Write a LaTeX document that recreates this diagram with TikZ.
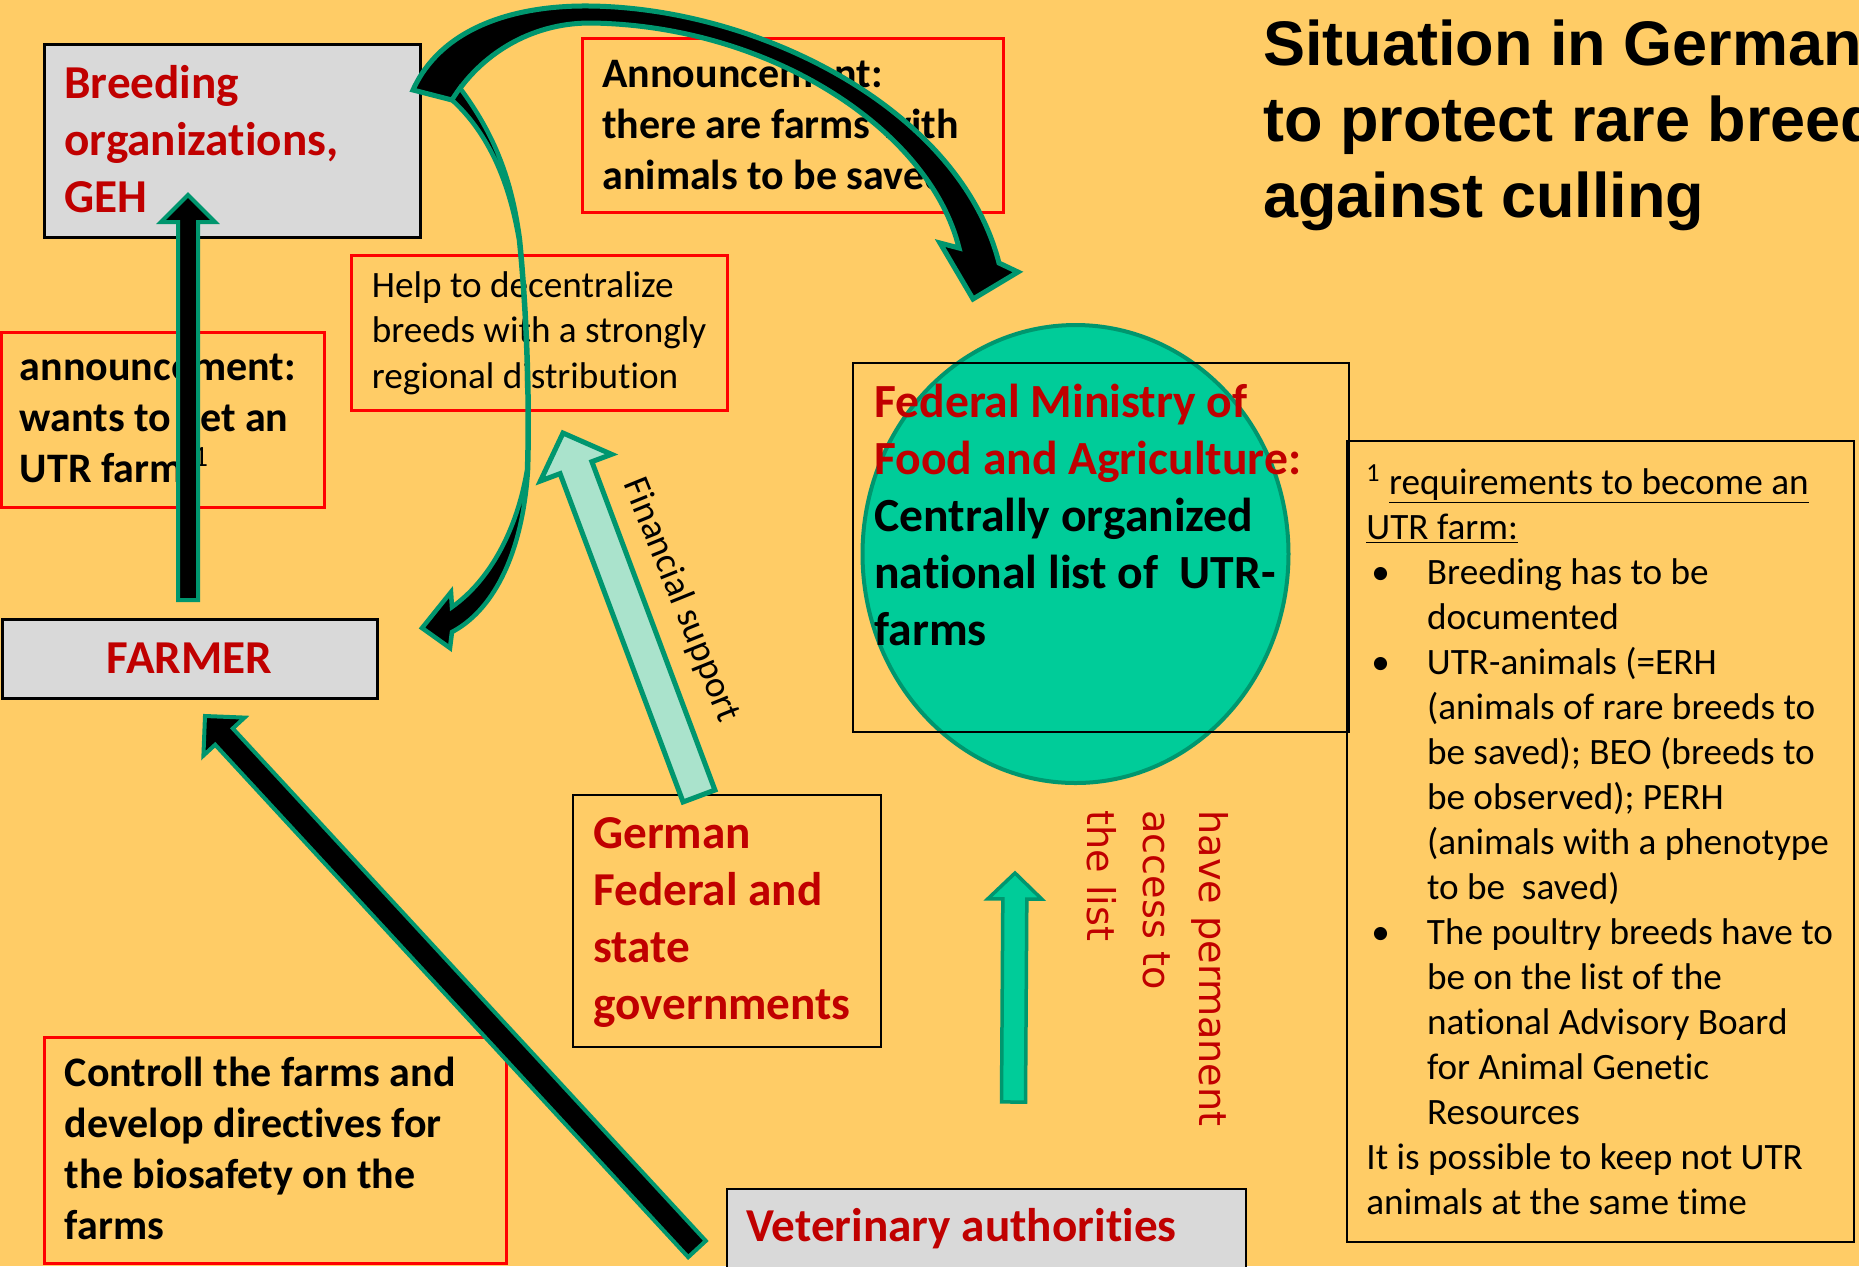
\documentclass[tikz,border=0pt]{standalone}
\usepackage{fontspec}
\setmainfont{Carlito}[Ligatures=NoCommon]
\newfontfamily\titleFont{Liberation Sans}
\newfontfamily\listFont{DejaVu Sans}
\usetikzlibrary{calc,fit,shapes.geometric}

\definecolor{slideBg}{HTML}{FFCC66}
\definecolor{boxGray}{HTML}{D9D9D9}
\definecolor{darkRed}{HTML}{C00000}
\definecolor{frameRed}{HTML}{FF0000}
\definecolor{arrowTeal}{HTML}{00966E}
\definecolor{listGreen}{HTML}{00CC99}
\definecolor{mint}{HTML}{AAE3CC}

% bullet and indent of the footnote list
\newcommand\noteBullet{\hspace*{2.5pt}\makebox[27.8pt][l]{\textbullet}}
\newcommand\noteIndent{\hspace*{30.3pt}}

% block arrow: tail, tip, half shaft, half head, head length, style
\newcommand\blockArrow[6]{%
  \coordinate (ba-h) at ($(#2)!#5!(#1)$);
  \filldraw[#6] ($(#1)!#3!90:(#2)$) -- ($(ba-h)!#3!90:(#2)$) -- ($(ba-h)!#4!90:(#2)$) -- (#2)
    -- ($(ba-h)!#4!-90:(#2)$) -- ($(ba-h)!#3!-90:(#2)$) -- ($(#1)!#3!-90:(#2)$) -- cycle;
}

\tikzset{
  graybox/.style={draw=black, fill=boxGray, line width=1.5pt, inner sep=0pt},
  redbox/.style={draw=frameRed, line width=1.5pt, inner sep=0pt},
  thinbox/.style={draw=black, line width=1pt, inner sep=0pt},
  txt/.style={inner sep=0pt, anchor=base west, text width=#1, align=flush left},
  txt/.default=300pt,
  redfont/.style={text=darkRed, font=\fontsize{23.6pt}{28.6pt}\selectfont\bfseries},
  boldfont/.style={font=\fontsize{21pt}{25.5pt}\selectfont\bfseries},
  plainfont/.style={font=\fontsize{18.6pt}{22.5pt}\selectfont},
  blackarrow/.style={fill=black, draw=arrowTeal, line width=2pt},
  arcarrow/.style={fill=black, draw=arrowTeal, line width=2.5pt},
  mintarrow/.style={fill=mint, draw=arrowTeal, line width=2.5pt},
  greenarrow/.style={fill=listGreen, draw=arrowTeal, line width=1.75pt},
}

\begin{document}
\begin{tikzpicture}[x=0.5pt, y=-0.5pt, line join=miter]
    % slide
    \useasboundingbox (0,0) rectangle (1859,1266);
    \clip (0,0) rectangle (1859,1266);
    \fill[slideBg] (0,0) rectangle (1859,1266);

    % title
    \node[txt=400pt, font=\titleFont\bfseries\fontsize{31.5pt}{38pt}\selectfont] (title) at (1263,65)
      {Situation in Germany\\ to protect rare breeds\\ against culling};

    % national list
    \node[ellipse, draw=arrowTeal, fill=listGreen, line width=2pt, minimum width=213pt, minimum height=229pt] (list) at (1075.5,554) {};
    \node[thinbox, fit={(853,363) (1349,732)}] (ministry) {};
    \node[txt=260pt, redfont, font=\fontsize{23.8pt}{28.6pt}\selectfont\bfseries] (ministryText) at (874,417)
      {Federal Ministry of\\ Food and Agriculture:\\ \color{black}Centrally organized\\ national list of\ \ UTR-\\ farms};

    % gray boxes
    \node[graybox, fit={(44,44) (420,237)}] (breed) {};
    \node[graybox, fit={(2,619) (377,698)}] (farmer) {};
    \node[graybox, line width=1pt, fit={(727,1189) (1246,1280)}] (vet) {};

    % red frames
    \foreach \nm/\xa/\ya/\xb/\yb in {annBreed/582/38/1003/212, help/351/255/727/410,
                                    annFarm/1.5/332/324/507, control/44/1037/506/1263} {
      \node[redbox, fit={(\xa,\ya) (\xb,\yb)}] (\nm) {};
    }

    % black frames
    \node[thinbox, fit={(573,795) (881,1047)}] (german) {};
    \node[thinbox, fit={(1347,441) (1854,1242)}] (notes) {};

    % box texts
    \node[txt, redfont] (breedText) at (64,98) {Breeding\\ organizations,\\ GEH};
    \node[redfont, inner sep=0pt, anchor=base] (farmerText) at (189.5,673) {FARMER};
    \node[txt, redfont] (vetText) at (746,1241.5) {Veterinary authorities};
    \node[txt, redfont] (germanText) at (593,848) {German\\ Federal and\\ state\\ governments};
    \node[txt, boldfont] (annBreedText) at (602,87) {Announcement:\\ there are farms with\\ animals to be saved};
    \node[txt, boldfont] (annFarmText) at (19.5,380) {announcement:\\ wants to get an\\ UTR farm \textsuperscript{\mdseries 1}};
    \node[txt, boldfont] (controlText) at (64.5,1086) {Controll the farms and\\ develop directives for\\ the biosafety on the\\ farms};
    \node[txt, plainfont, font=\fontsize{18.6pt}{22.75pt}\selectfont] (helpText) at (371.5,297)
      {Help to decentralize\\ breeds with a strongly\\ regional distribution};
    \node[txt, plainfont] (notesText) at (1366,494) {%
      \textsuperscript{1} \underline{requirements to become an}\\
      \underline{UTR farm:}\\
      \noteBullet Breeding has to be\\
      \noteIndent documented\\
      \noteBullet UTR-animals (=ERH\\
      \noteIndent (animals of rare breeds to\\
      \noteIndent be saved); BEO (breeds to\\
      \noteIndent be observed); PERH\\
      \noteIndent (animals with a phenotype\\
      \noteIndent to be\ \ saved)\\
      \noteBullet The poultry breeds have to\\
      \noteIndent be on the list of the\\
      \noteIndent national Advisory Board\\
      \noteIndent for Animal Genetic\\
      \noteIndent Resources\\
      It is possible to keep not UTR\\
      animals at the same time};

    % rotated labels
    \node[txt=200pt, rotate=-90, text=darkRed, font=\listFont\fontsize{19.1pt}{28pt}\selectfont] (access) at (1199,810)
      {have permanent\\ access to\\ the list};
    \node[plainfont, inner sep=0pt, rotate=-68] (finance) at (681,600) {Financial support};

    % straight arrows
    \coordinate (farmerUp) at (188,600);
    \coordinate (breedIn) at (188,195);
    \blockArrow{farmerUp}{breedIn}{5pt}{13.5pt}{13.5pt}{blackarrow}
    \coordinate (vetOut) at (697,1249);
    \coordinate (farmerIn) at (205,716);
    \blockArrow{vetOut}{farmerIn}{6pt}{14pt}{14pt}{blackarrow}
    \coordinate (germanUp) at (699,796);
    \coordinate (helpIn) at (563,433);
    \blockArrow{germanUp}{helpIn}{8.5pt}{19pt}{18.5pt}{mintarrow}
    \coordinate (accessUp) at (1013.5,1102);
    \coordinate (listIn) at (1015,873);
    \blockArrow{accessUp}{listIn}{6pt}{13.5pt}{13pt}{greenarrow}

    % curved arrows out of the breeding box
    \coordinate (arcTail) at (413,90);
    \coordinate (arcTip) at (973,299);
    \coordinate (bendTail) at (460,88);
    \coordinate (bendTip) at (422,628);
    \filldraw[arcarrow] (arcTail) .. controls (440,30) and (510,5) .. (590,6)
      .. controls (760,8) and (960,110) .. (999,263) -- (1018,272) -- (arcTip) -- (940,243) -- (959,248)
      .. controls (930,130) and (770,25) .. (590,23) .. controls (530,23) and (480,55) .. (452,100) -- cycle;
    \filldraw[arcarrow, line width=2.25pt] (bendTail) .. controls (495,135) and (512,180) .. (520,240)
      .. controls (528,320) and (530,410) .. (528,470)
      .. controls (522,560) and (490,612) .. (452,632) -- (450,648) -- (bendTip) -- (451,592) -- (452,607)
      .. controls (490,580) and (517,530) .. (527,470) .. controls (529,410) and (527,320) .. (519,240)
      .. controls (508,175) and (485,130) .. (452,100) -- cycle;
\end{tikzpicture}
\end{document}
